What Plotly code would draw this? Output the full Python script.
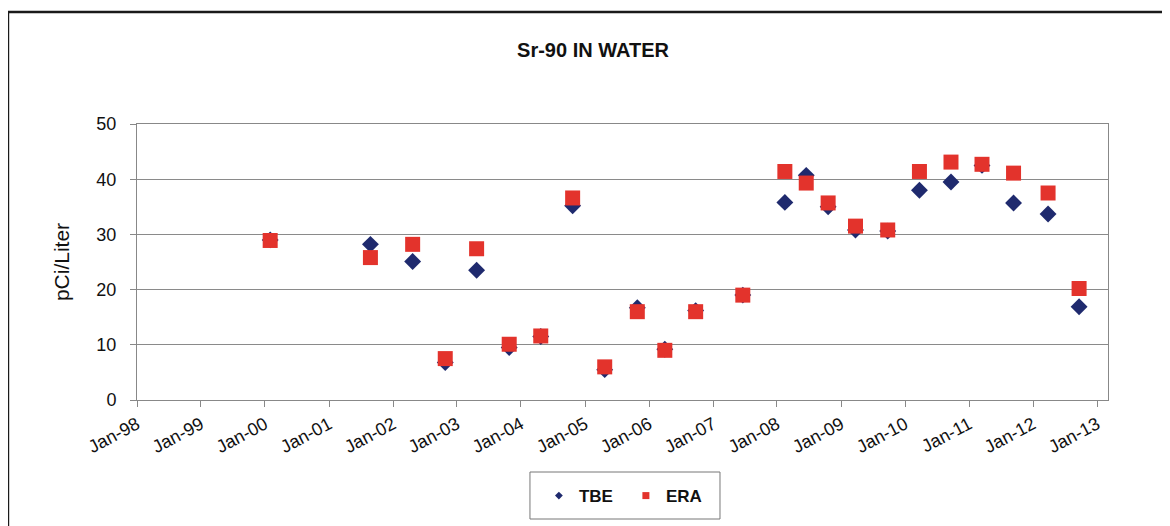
import plotly.graph_objects as go

# Sr-90 in water, sample dates and results (pCi/Liter)
dates = ["2000-01-31", "2001-08-25", "2002-04-23", "2002-10-26", "2003-04-23",
         "2003-10-26", "2004-04-23", "2004-10-22", "2005-04-23", "2005-10-26",
         "2006-04-01", "2006-09-24", "2007-06-20", "2008-02-15", "2008-06-16",
         "2008-10-19", "2009-03-24", "2009-09-24", "2010-03-24", "2010-09-20",
         "2011-03-16", "2011-09-12", "2012-03-27", "2012-09-20"]
tbe = [29.0, 28.2, 25.1, 6.8, 23.5, 9.5, 11.5, 35.2, 5.5, 16.7,
       9.2, 16.2, 19.0, 35.8, 40.7, 35.0, 30.8, 30.6, 38.0, 39.5,
       42.5, 35.7, 33.7, 16.9]
era = [28.9, 25.8, 28.2, 7.5, 27.4, 10.1, 11.6, 36.6, 6.0, 16.0,
       9.0, 16.0, 19.0, 41.4, 39.3, 35.7, 31.5, 30.8, 41.4, 43.1,
       42.7, 41.1, 37.5, 20.2]
tick_dates = ["%d-01-01" % y for y in range(1998, 2014)]
tick_labels = ["Jan-%02d" % (y % 100) for y in range(1998, 2014)]

navy = "#1f2a6e"
red = "#e3332c"

fig = go.Figure()
fig.add_trace(go.Scatter(x=dates, y=tbe, mode="markers", name="TBE", showlegend=False,
                         marker=dict(symbol="diamond", size=13, color=navy)))
fig.add_trace(go.Scatter(x=dates, y=era, mode="markers", name="ERA", showlegend=False,
                         marker=dict(symbol="square", size=15, color=red)))
# legend entries with the small Excel-style keys
fig.add_trace(go.Scatter(x=[None], y=[None], mode="markers", name="TBE",
                         marker=dict(symbol="diamond", size=6, color=navy)))
fig.add_trace(go.Scatter(x=[None], y=[None], mode="markers", name="ERA",
                         marker=dict(symbol="square", size=7, color=red)))

# outer chart border
fig.add_shape(type="rect", xref="paper", yref="paper",
              x0=-0.1329, x1=1.07, y0=-0.48, y1=1.406,
              line=dict(color="#1a1a1a", width=2.5), fillcolor="rgba(0,0,0,0)",
              layer="below")
# legend frame
fig.add_shape(type="rect", xref="paper", yref="paper",
              x0=0.4047, x1=0.6004, y0=-0.4312, y1=-0.2609,
              line=dict(color="#777777", width=1), fillcolor="rgba(0,0,0,0)")

fig.update_layout(
    width=1170, height=526,
    margin=dict(l=129, r=70, t=116, b=134),
    paper_bgcolor="white", plot_bgcolor="white",
    font=dict(family="Liberation Sans, Arial", color="#111111"),
    title=dict(text="<b>Sr-90 IN WATER</b>", x=0.5, xanchor="center",
               y=0.92, yanchor="middle", font=dict(size=20)),
    xaxis=dict(type="date", range=["1998-01-01", "2013-03-04"],
               tickmode="array", tickvals=tick_dates, ticktext=tick_labels,
               tickangle=-28, tickfont=dict(size=18),
               showgrid=False, zeroline=False,
               showline=True, linecolor="#888888", linewidth=1, mirror=True,
               ticks="outside", ticklen=6, tickcolor="#888888"),
    yaxis=dict(range=[0, 50], dtick=10, tickfont=dict(size=18),
               ticklabelstandoff=10,
               title=dict(text="pCi/Liter", font=dict(size=21), standoff=21),
               showgrid=True, gridcolor="#8a8a8a", gridwidth=1, zeroline=False,
               showline=True, linecolor="#888888", linewidth=1, mirror=True,
               ticks="outside", ticklen=6, tickcolor="#888888"),
    legend=dict(orientation="h", x=0.4139, xanchor="left", y=-0.348,
                yanchor="middle", borderwidth=0, bgcolor="rgba(0,0,0,0)",
                font=dict(size=17, weight="bold", family="Liberation Sans Narrow, Arial"),
                traceorder="normal", entrywidth=42, itemwidth=30),
)

fig.write_html("out.html")
